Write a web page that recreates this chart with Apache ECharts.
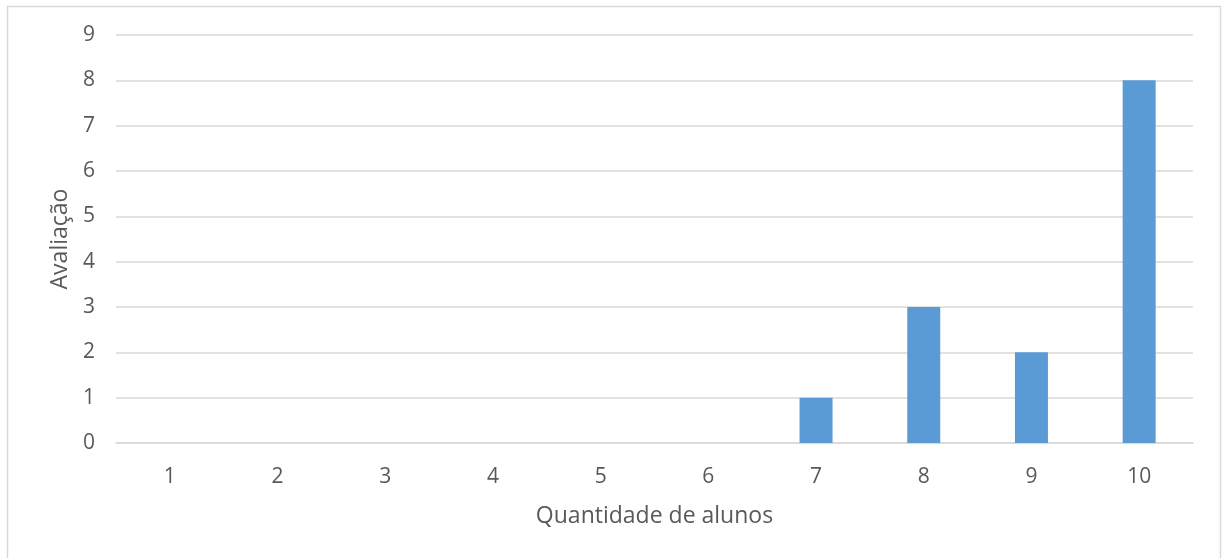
<!DOCTYPE html>
<html>
<head>
<meta charset="utf-8">
<script src="https://cdn.jsdelivr.net/npm/echarts@6/dist/echarts.min.js"></script>
<style>html,body{margin:0;padding:0;background:#fff}#c{width:1223px;height:558px}</style>
</head>
<body>
<div id="c"></div>
<script>
const categories = ['1','2','3','4','5','6','7','8','9','10'];
const values = [0,0,0,0,0,0,1,3,2,8];
const xName = 'Quantidade de alunos';
const yName = 'Avaliação';

const chart = echarts.init(document.getElementById('c'));
const font = '"Open Sans", "Noto Sans", sans-serif';
chart.setOption({
  animation: false,
  textStyle: { fontFamily: font },
  graphic: [{
    type: 'rect', shape: { x: 7.5, y: 6.5, width: 1213, height: 560 },
    style: { fill: 'none', stroke: '#D9D9D9', lineWidth: 1.5 }, z: -1
  }],
  grid: { left: 116, right: 30, top: 35, bottom: 115 },
  xAxis: {
    type: 'category', data: categories,
    name: xName, nameLocation: 'middle', nameGap: 62,
    nameTextStyle: { color: '#595959', fontSize: 23, fontFamily: font },
    axisLine: { lineStyle: { color: '#D9D9D9', width: 1.5 } },
    axisTick: { show: false },
    axisLabel: { color: '#595959', fontSize: 21, margin: 24, fontFamily: font }
  },
  yAxis: {
    type: 'value', min: 0, max: 9, interval: 1,
    name: yName, nameLocation: 'middle', nameGap: 43,
    nameTextStyle: { color: '#595959', fontSize: 23, fontFamily: font },
    axisLine: { show: false }, axisTick: { show: false },
    axisLabel: { color: '#595959', fontSize: 21, margin: 21, padding: [3, 0, 0, 0], fontFamily: font },
    splitLine: { lineStyle: { color: '#D9D9D9', width: 1.5 } }
  },
  series: [{
    type: 'bar', data: values, barWidth: 33,
    itemStyle: { color: '#5B9BD5' }
  }]
});
</script>
</body>
</html>
